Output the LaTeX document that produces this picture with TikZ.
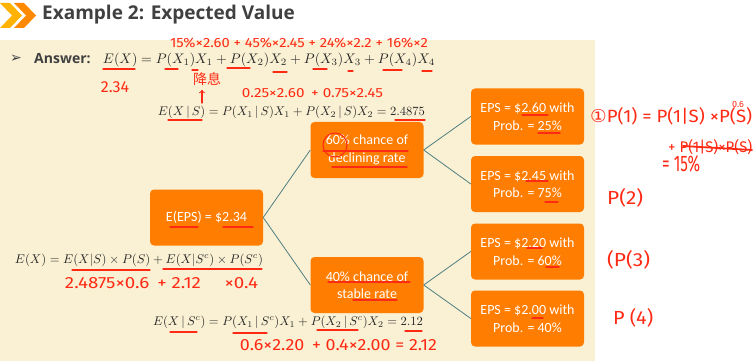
\documentclass[tikz,border=0pt]{standalone}
\usepackage{fontspec}
\usepackage{graphicx}
\setmainfont{Carlito}
\newfontfamily\titlefont{Open Sans}
\newfontfamily\symfont{DejaVu Sans}
\newfontfamily\hand{Fira Sans}
\newfontfamily\cjk{Noto Sans CJK SC}
\definecolor{beige}{HTML}{FAF0D3}
\definecolor{boxorange}{HTML}{FF7D00}
\definecolor{linkteal}{HTML}{4F7F80}
\definecolor{titlegray}{HTML}{404040}
\definecolor{ink}{HTML}{FF2A14}
\definecolor{chevA}{HTML}{FFB300}
\definecolor{chevB}{HTML}{FF8A00}
\tikzset{
  obox/.style={fill=boxorange, rounded corners=4pt, minimum width=113pt, minimum height=56pt,
    inner sep=0pt, align=center, text=white, font=\fontsize{14}{17.5}\selectfont},
  link/.style={draw=linkteal, line width=0.8pt},
  eqn/.style={inner sep=0pt, text=black!85},
  note/.style={inner sep=0pt, text=ink, font=\hand\fontsize{14}{15}\selectfont},
  uline/.style={draw=ink, line width=1.1pt, line cap=round},
}
\begin{document}
\begin{tikzpicture}[x=1pt,y=-1pt]
\useasboundingbox (0,0) rectangle (756,361);
\fill[white] (0,0) rectangle (756,361);
\fill[beige] (0,40) rectangle (595,361);
% chevrons
\fill[chevA] (0,3) -- (10,3) -- (22,15.5) -- (10,28) -- (0,28) -- (12,15.5) -- cycle;
\fill[chevB] (14,3) -- (24,3) -- (36,15.5) -- (24,28) -- (14,28) -- (26,15.5) -- cycle;
\node[anchor=west, inner sep=0pt, text=titlegray, font=\titlefont\bfseries\fontsize{19}{22}\selectfont] (title) at (42,15) {Example 2: Expected Value};
% answer line
\node[anchor=west, inner sep=0pt, text=titlegray, font=\symfont\fontsize{14}{16}\selectfont] (arrow) at (10,59) {➢};
\node[anchor=west, inner sep=0pt, text=titlegray, font=\titlefont\bfseries\fontsize{14}{16}\selectfont] (ans) at (34,59) {Answer:};
\node[eqn] (eq1) at (269,60) {\resizebox{332pt}{!}{$E(X)=P(X_1)X_1+P(X_2)X_2+P(X_3)X_3+P(X_4)X_4$}};
\node[eqn] (eq2) at (291.5,112) {\resizebox{267pt}{!}{$E(X\,|\,S)=P(X_1\,|\,S)X_1+P(X_2\,|\,S)X_2=2.4875$}};
\node[eqn] (eq3) at (139,260) {\resizebox{248pt}{!}{$E(X)=E(X|S)\times P(S)+E(X|S^c)\times P(S^c)$}};
\node[eqn] (eq4) at (288,322) {\resizebox{270pt}{!}{$E(X\,|\,S^c)=P(X_1\,|\,S^c)X_1+P(X_2\,|\,S^c)X_2=2.12$}};
% boxes
\node[obox] (root) at (206.5,217.5) {E(EPS) = \$2.34};
\node[obox] (dec) at (367,150) {60\% chance of\\declining rate};
\node[obox] (sta) at (367,285) {40\% chance of\\stable rate};
\node[obox] (o1) at (527.5,116.5) {EPS = \$2.60 with\\Prob. = 25\%};
\node[obox] (o2) at (527.5,184) {EPS = \$2.45 with\\Prob. = 75\%};
\node[obox] (o3) at (527.5,251.5) {EPS = \$2.20 with\\Prob. = 60\%};
\node[obox] (o4) at (527.5,318.5) {EPS = \$2.00 with\\Prob. = 40\%};
\draw[link] (root.east) -- (dec.west);
\draw[link] (root.east) -- (sta.west);
\draw[link] (dec.east) -- (o1.west);
\draw[link] (dec.east) -- (o2.west);
\draw[link] (sta.east) -- (o3.west);
\draw[link] (sta.east) -- (o4.west);
% handwritten notes
\node[note] (n1) at (299,42.5) {\resizebox{258pt}{9.5pt}{15\%×2.60 + 45\%×2.45 + 24\%×2.2 + 16\%×2}};
\node[note, font=\hand\fontsize{16}{17}\selectfont] (n2) at (115,87) {2.34};
\node[note, font=\cjk\fontsize{14}{15}\selectfont] (n3) at (207,79) {降息};
\coordinate (arrTop) at (202,90);
\coordinate (arrBot) at (202,103);
\draw[uline, ->] (arrBot) -- (arrTop);
\node[note] (n4) at (312.5,93.5) {\resizebox{141pt}{9pt}{0.25×2.60 \,+ 0.75×2.45}};
\node[note] (n5) at (161.5,283) {\resizebox{193pt}{11pt}{2.4875×0.6 \,+ 2.12 \quad ×0.4}};
\node[note] (n6) at (338.5,345) {\resizebox{197pt}{11pt}{0.6×2.20 \,+ 0.4×2.00 = 2.12}};
\node[note, anchor=west] (n7) at (590,116) {\resizebox{162pt}{15pt}{{\symfont ①}P(1) = P(1|S) ×P(S)}};
\node[note, font=\hand\fontsize{9}{10}\selectfont] (n8) at (738,104) {0.6};
\node[note, anchor=west] (n9) at (668,147) {\resizebox{84pt}{13pt}{+ P(1|S)×P(S)}};
\coordinate (strA) at (683,146);
\coordinate (strB) at (752,150);
\draw[uline, line width=1.8pt] (strA) -- (strB);
\node[note, anchor=west] (n10) at (662,164) {\resizebox{38pt}{16pt}{= 15\%}};
\node[note, anchor=west] (n11) at (607,198) {\resizebox{36pt}{16pt}{P(2)}};
\node[note, anchor=west] (n12) at (607,260) {\resizebox{43pt}{16pt}{(P(3)}};
\node[note, anchor=west] (n13) at (613,318) {\resizebox{40pt}{16pt}{P (4)}};
% red underlines
\foreach \a/\b/\y in {103/135/69, 165/178/69, 192/198/70, 227/250/68, 273/287/72, 313/327/69, 348/353/71, 383/402/70, 422/432/71,
  168/202/120, 395/425/120,
  72/150/270, 163/262/269,
  323/408/151, 332/407/167, 170/198/227, 223/253/227,
  328/410/282, 353/397/300,
  522/548/115, 538/560/133, 526/548/181, 545/558/202, 527/542/248, 546/559/267, 532/543/318,
  170/197/332, 233/267/333, 317/358/330, 405/422/331}
  { \coordinate (ua) at (\a,\y); \coordinate (ub) at (\b,\y); \draw[uline] (ua) -- (ub); }
\coordinate (circ) at (335,145);
\draw[draw=ink, line width=1pt] (circ) circle (12pt);
\end{tikzpicture}
\end{document}
